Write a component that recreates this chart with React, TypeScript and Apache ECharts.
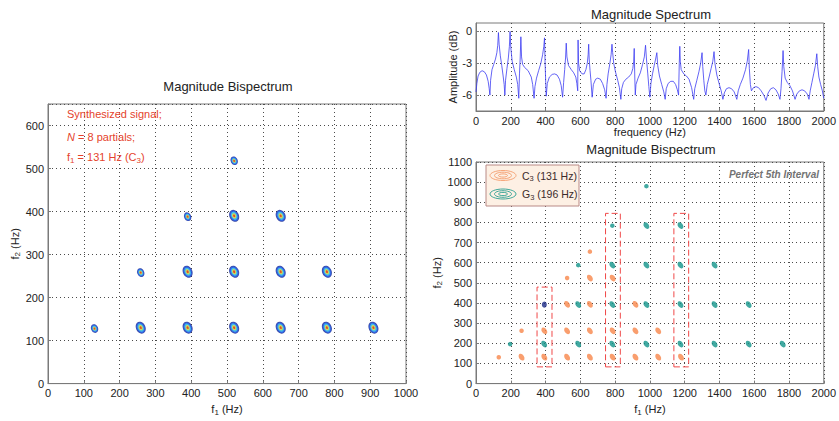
import React, { useEffect, useRef } from 'react';
import * as echarts from 'echarts';

const FONT = '"Liberation Sans", Arial, Helvetica, sans-serif';

// ---------- Magnitude Spectrum (frequency in Hz, amplitude in dB) ----------
const specFreq = [
  0, 5, 12, 22, 35, 48, 60, 70, 76, 80,
  84, 92, 102, 112, 120, 125, 129,
  133, 140, 148, 156, 162, 166,
  170, 178, 186, 192, 196,
  200, 208, 220, 232, 240, 246,
  250, 254, 258,
  262, 268, 280, 300, 318, 326, 334,
  339, 348, 360, 373, 383, 390, 394,
  397, 401, 404,
  410, 422, 438, 452, 466, 480, 490, 498,
  504, 510, 515, 519,
  523, 532, 548, 562, 574, 580, 585,
  587,
  590, 596, 610, 622, 632, 640, 645, 648,
  651, 656, 661, 668,
  675, 688, 700, 715, 728, 740, 748,
  753, 760, 770, 777, 782,
  786, 792, 802, 815, 825, 833,
  838, 848, 862, 878, 893, 902, 907, 910,
  913, 916,
  920, 932, 945, 958, 968, 975,
  980, 988, 994, 1000,
  1006, 1015, 1025, 1033, 1040,
  1045, 1055, 1068, 1080, 1088,
  1094, 1105, 1120, 1135, 1148, 1158, 1165,
  1169, 1172,
  1175, 1180, 1195, 1210, 1225, 1240, 1252,
  1258, 1270, 1282, 1292, 1300,
  1304, 1310, 1316, 1322,
  1330, 1342, 1352, 1362, 1369,
  1374, 1385, 1398, 1410, 1420,
  1428, 1440, 1455, 1470, 1485, 1500,
  1508, 1520, 1535, 1550, 1560, 1568,
  1572, 1578, 1584,
  1595, 1610, 1625, 1640, 1655, 1668,
  1680, 1695, 1710, 1725, 1738, 1748,
  1754, 1760, 1766,
  1770, 1778, 1790, 1805, 1820, 1835,
  1845, 1860, 1875, 1890, 1905, 1915,
  1922, 1932, 1942, 1952, 1960,
  1965, 1972, 1982, 1992, 2000,
];
const specDb = [
  -5.7, -4.9, -4.2, -3.85, -3.7, -3.8, -4.1, -4.7, -5.4, -6.0,
  -4.6, -3.6, -3.1, -2.6, -2.0, -1.3, -0.1,
  -1.2, -2.3, -3.2, -4.2, -5.0, -6.0,
  -4.6, -3.5, -2.5, -1.4, 0.0,
  -1.5, -2.8, -3.6, -4.3, -5.0, -6.3,
  -4.0, -2.6, -0.5,
  -2.4, -3.1, -3.4, -3.7, -4.3, -5.0, -6.3,
  -5.2, -4.4, -3.7, -3.0, -2.2, -1.4, -0.6,
  -2.8, -4.8, -6.1,
  -4.9, -4.3, -4.05, -4.0, -4.1, -4.5, -5.1, -6.2,
  -4.8, -3.6, -2.5, -1.1,
  -2.4, -3.2, -3.6, -3.9, -4.3, -4.9, -5.6,
  -0.8,
  -3.0, -3.7, -4.0, -4.0, -3.6, -3.0, -2.2, -1.2,
  -2.6, -3.7, -4.6, -6.2,
  -5.0, -4.5, -4.4, -4.5, -4.9, -5.5, -6.3,
  -5.0, -4.0, -3.0, -2.2, -1.2,
  -2.0, -3.0, -3.8, -4.6, -5.3, -6.4,
  -5.4, -4.8, -4.5, -4.3, -4.0, -3.5, -2.8, -1.6,
  -4.2, -6.0,
  -5.0, -4.4, -3.9, -3.1, -2.4, -1.3,
  -2.5, -4.0, -5.2, -6.2,
  -4.9, -4.0, -3.2, -2.6, -2.0,
  -3.2, -4.2, -5.0, -5.7, -6.4,
  -5.4, -4.9, -4.7, -4.7, -5.0, -5.5, -6.0,
  -3.0, -1.4,
  -2.8, -3.6, -4.0, -4.2, -4.5, -5.3, -6.4,
  -5.4, -4.6, -3.8, -3.0, -2.0,
  -3.3, -4.6, -5.6, -6.0,
  -5.0, -4.2, -3.5, -2.8, -1.9,
  -3.0, -4.1, -4.9, -5.6, -6.4,
  -5.8, -5.4, -5.3, -5.4, -5.7, -6.4,
  -5.6, -5.0, -4.4, -3.6, -2.8, -1.7,
  -3.5, -5.0, -5.6,
  -5.3, -5.2, -5.3, -5.6, -6.0, -6.5,
  -5.8, -5.4, -5.3, -5.5, -5.9, -6.4,
  -5.4, -3.8, -1.8,
  -3.3, -4.4, -4.8, -5.1, -5.6, -6.4,
  -5.9, -5.6, -5.5, -5.6, -5.9, -6.4,
  -5.6, -4.8, -4.0, -3.2, -2.1,
  -3.3, -4.3, -5.0, -5.6, -6.3,
];
const specYTicks = [-6, -3, 0];

// ---------- Left: Magnitude Bispectrum of synthesized C3 signal ----------
const leftCrossF1 = [259, 390, 520, 650, 779, 909, 390, 520, 650, 779, 520, 650];
const leftCrossF2 = [130, 130, 130, 130, 130, 130, 260, 260, 260, 260, 390, 390];
const leftAutoF1 = [130, 259, 390, 520];
const leftAutoF2 = [128, 258, 388, 518];

// ---------- Right: Magnitude Bispectrum C3 + G3 ----------
const c3CrossF1 = [262, 393, 524, 655, 786, 917, 1048, 1179, 393, 524, 655, 786, 917, 1048, 524, 655, 917, 655, 786];
const c3CrossF2 = [131, 131, 131, 131, 131, 131, 131, 131, 262, 262, 262, 262, 262, 262, 393, 393, 393, 524, 524];
const c3AutoF1 = [131, 262, 524, 655];
const c3AutoF2 = [131, 262, 524, 655];
const g3CrossF1 = [392, 588, 784, 980, 1176, 1372, 1568, 1764, 588, 784, 980, 1176, 1372, 1568, 784, 980, 1176, 1372, 980, 1176];
const g3CrossF2 = [196, 196, 196, 196, 196, 196, 196, 196, 392, 392, 392, 392, 392, 392, 588, 588, 588, 588, 784, 784];
const g3AutoF1 = [196, 588, 784, 980];
const g3AutoF2 = [196, 588, 784, 980];
const sharedF1 = [393];
const sharedF2 = [392];

// Dashed boxes (Hz): f1 from, f1 to, f2 from, f2 to
const boxF1From = [351, 745, 1138];
const boxF1To = [437, 830, 1223];
const boxF2From = [83, 83, 83];
const boxF2To = [479, 845, 845];

const zip = (a: number[], b: number[]) => a.map((v, i) => [v, b[i]]);

const subRich = {
  a: { fontSize: 11, fontFamily: FONT, color: '#222', lineHeight: 14, verticalAlign: 'middle' as const },
  s: { fontSize: 8, fontFamily: FONT, color: '#222', lineHeight: 6, verticalAlign: 'bottom' as const },
};

const plain = (v: number) => String(v);

function axisBase(extra: any) {
  return {
    type: 'value',
    axisLine: { show: true, onZero: false, lineStyle: { color: '#7a7a7a', width: 1 } },
    axisTick: { show: true, inside: true, length: 3, lineStyle: { color: '#7a7a7a' } },
    axisLabel: { color: '#222', fontSize: 11, fontFamily: FONT, margin: 4, formatter: plain },
    splitLine: { show: true, lineStyle: { color: '#4a4a4a', type: [1, 3], width: 1 } },
    nameLocation: 'middle',
    nameTextStyle: { color: '#222', fontSize: 11, fontFamily: FONT, rich: subRich },
    ...extra,
  };
}

export default function App() {
  const ref = useRef<HTMLDivElement>(null);
  useEffect(() => {
    document.body.style.margin = '0';
    if (!ref.current) return;
    const chart = echarts.init(ref.current, null, { renderer: 'svg' });

    const jetLayers = [
      { color: '#0c1f8f', big: [9.5, 12.5], small: [7, 9] },
      { color: '#2e68f2', big: [8, 11], small: [6, 7.8] },
      { color: '#45d2ee', big: [6, 8.5], small: [4.5, 6] },
      { color: '#f4e43a', big: [4, 5.5], small: [3, 4] },
      { color: '#e62a1c', big: [2, 3], small: [1.8, 2.4] },
    ];
    const leftSeries: any[] = [];
    jetLayers.forEach((l) => {
      leftSeries.push({
        type: 'scatter', xAxisIndex: 0, yAxisIndex: 0, data: zip(leftCrossF1, leftCrossF2),
        symbol: 'circle', symbolSize: l.big, symbolRotate: 25, itemStyle: { color: l.color }, silent: true,
      });
      leftSeries.push({
        type: 'scatter', xAxisIndex: 0, yAxisIndex: 0, data: zip(leftAutoF1, leftAutoF2),
        symbol: 'circle', symbolSize: l.small, symbolRotate: 25, itemStyle: { color: l.color }, silent: true,
      });
    });

    const ORANGE = '#f7864a';
    const TEAL = '#12938a';

    const option: any = {
      animation: false,
      backgroundColor: '#ffffff',
      grid: [
        { left: 48, top: 104, width: 358, height: 292, show: true, borderColor: '#7a7a7a', borderWidth: 1 },
        { left: 476, top: 23, width: 351, height: 88, show: true, borderColor: '#7a7a7a', borderWidth: 1 },
        { left: 476, top: 162, width: 351, height: 233, show: true, borderColor: '#7a7a7a', borderWidth: 1 },
      ],
      xAxis: [
        axisBase({ gridIndex: 0, min: 0, max: 1000, interval: 100, name: '{a|f}{s|1}{a| (Hz)}', nameGap: 14 }),
        axisBase({ gridIndex: 1, min: 0, max: 2000, interval: 200, name: 'frequency (Hz)', nameGap: 14 }),
        axisBase({ gridIndex: 2, min: 0, max: 2000, interval: 200, name: '{a|f}{s|1}{a| (Hz)}', nameGap: 14 }),
      ],
      yAxis: [
        axisBase({
          gridIndex: 0, min: 0, max: 650, interval: 100, name: '{a|f}{s|2}{a| (Hz)}', nameGap: 26,
          axisLabel: { color: '#222', fontSize: 11, fontFamily: FONT, margin: 4, formatter: (v: number) => (v % 100 === 0 ? String(v) : '') },
        }),
        axisBase({
          gridIndex: 1, min: -7.5, max: 0.8, name: 'Amplitude (dB)', nameGap: 14,
          axisLabel: { color: '#222', fontSize: 11, fontFamily: FONT, margin: 4, customValues: specYTicks, formatter: plain },
          axisTick: { show: true, inside: true, length: 3, lineStyle: { color: '#7a7a7a' }, customValues: specYTicks },
        }),
        axisBase({ gridIndex: 2, min: 0, max: 1100, interval: 100, name: '{a|f}{s|2}{a| (Hz)}', nameGap: 30 }),
      ],
      series: [
        ...leftSeries,
        {
          type: 'line', xAxisIndex: 1, yAxisIndex: 1, data: zip(specFreq, specDb), showSymbol: false,
          lineStyle: { color: '#3c3cf2', width: 0.8 }, silent: true,
        },
        {
          type: 'scatter', xAxisIndex: 2, yAxisIndex: 2, data: zip(c3CrossF1, c3CrossF2), symbol: 'circle',
          symbolSize: [5, 7.5], symbolRotate: 35, itemStyle: { color: ORANGE }, silent: true,
          markArea: {
            silent: true,
            itemStyle: { color: 'rgba(0,0,0,0)', borderColor: '#f04848', borderWidth: 1, borderType: [6, 3] },
            data: boxF1From.map((x, i) => [
              { xAxis: x, yAxis: boxF2From[i] },
              { xAxis: boxF1To[i], yAxis: boxF2To[i] },
            ]),
          },
        },
        {
          type: 'scatter', xAxisIndex: 2, yAxisIndex: 2, data: zip(c3AutoF1, c3AutoF2), symbol: 'circle',
          symbolSize: [4.5, 4.5], itemStyle: { color: ORANGE }, silent: true,
        },
        {
          type: 'scatter', xAxisIndex: 2, yAxisIndex: 2, data: zip(g3CrossF1, g3CrossF2), symbol: 'circle',
          symbolSize: [5, 7.5], symbolRotate: 35, itemStyle: { color: TEAL }, silent: true,
        },
        {
          type: 'scatter', xAxisIndex: 2, yAxisIndex: 2, data: zip(g3AutoF1, g3AutoF2), symbol: 'circle',
          symbolSize: [4.5, 4.5], itemStyle: { color: TEAL }, silent: true,
        },
        {
          type: 'scatter', xAxisIndex: 2, yAxisIndex: 2, data: zip(sharedF1, sharedF2), symbol: 'circle',
          symbolSize: [5, 6], itemStyle: { color: '#1c2a86' }, silent: true,
        },
      ],
      graphic: [
        { type: 'text', x: 228, y: 86, style: { text: 'Magnitude Bispectrum', font: `13px ${FONT}`, fill: '#222', align: 'center', verticalAlign: 'middle' } },
        { type: 'text', x: 651, y: 14, style: { text: 'Magnitude Spectrum', font: `13px ${FONT}`, fill: '#222', align: 'center', verticalAlign: 'middle' } },
        { type: 'text', x: 651, y: 149, style: { text: 'Magnitude Bispectrum', font: `13px ${FONT}`, fill: '#222', align: 'center', verticalAlign: 'middle' } },
        // annotation, left panel
        { type: 'text', x: 67, y: 114, z: 10, style: { text: 'Synthesized signal;', font: `11px ${FONT}`, fill: '#e5432c', verticalAlign: 'middle' } },
        {
          type: 'text', x: 67, y: 137, z: 10,
          style: {
            text: '{i|N}{a| = 8 partials;}', verticalAlign: 'middle',
            rich: {
              i: { fontSize: 11, fontFamily: FONT, fontStyle: 'italic', fill: '#e5432c', lineHeight: 14 },
              a: { fontSize: 11, fontFamily: FONT, fill: '#e5432c', lineHeight: 14 },
            },
          },
        },
        {
          type: 'text', x: 67, y: 157, z: 10,
          style: {
            text: '{a|f}{s|1}{a| = 131 Hz (C}{s|3}{a|)}', verticalAlign: 'middle',
            rich: {
              a: { fontSize: 11, fontFamily: FONT, fill: '#e5432c', lineHeight: 14, verticalAlign: 'middle' },
              s: { fontSize: 8, fontFamily: FONT, fill: '#e5432c', lineHeight: 6, verticalAlign: 'bottom' },
            },
          },
        },
        // legend box, right bispectrum
        { type: 'rect', z: 10, shape: { x: 486, y: 165, width: 93, height: 41 }, style: { fill: '#fdf0e4', stroke: '#b98a86', lineWidth: 1 } },
        { type: 'ellipse', z: 11, shape: { cx: 503, cy: 175.5, rx: 13, ry: 5 }, style: { fill: 'none', stroke: '#f6a578', lineWidth: 1 } },
        { type: 'ellipse', z: 11, shape: { cx: 503, cy: 175.5, rx: 8.5, ry: 3.3 }, style: { fill: 'none', stroke: '#f6a578', lineWidth: 1 } },
        { type: 'ellipse', z: 11, shape: { cx: 503, cy: 175.5, rx: 4.5, ry: 1.6 }, style: { fill: 'none', stroke: '#f6a578', lineWidth: 1 } },
        { type: 'ellipse', z: 11, shape: { cx: 503, cy: 194, rx: 13, ry: 5 }, style: { fill: 'none', stroke: '#3fa89a', lineWidth: 1 } },
        { type: 'ellipse', z: 11, shape: { cx: 503, cy: 194, rx: 8.5, ry: 3.3 }, style: { fill: 'none', stroke: '#3fa89a', lineWidth: 1 } },
        { type: 'ellipse', z: 11, shape: { cx: 503, cy: 194, rx: 4.5, ry: 1.6 }, style: { fill: 'none', stroke: '#3fa89a', lineWidth: 1 } },
        {
          type: 'text', x: 522, y: 175.5, z: 11,
          style: {
            text: '{a|C}{s|3}{a| (131 Hz)}', verticalAlign: 'middle',
            rich: {
              a: { fontSize: 10.5, fontFamily: FONT, fill: '#3b2b2b', lineHeight: 14, verticalAlign: 'middle' },
              s: { fontSize: 7.5, fontFamily: FONT, fill: '#3b2b2b', lineHeight: 6, verticalAlign: 'bottom' },
            },
          },
        },
        {
          type: 'text', x: 522, y: 194, z: 11,
          style: {
            text: '{a|G}{s|3}{a| (196 Hz)}', verticalAlign: 'middle',
            rich: {
              a: { fontSize: 10.5, fontFamily: FONT, fill: '#3b2b2b', lineHeight: 14, verticalAlign: 'middle' },
              s: { fontSize: 7.5, fontFamily: FONT, fill: '#3b2b2b', lineHeight: 6, verticalAlign: 'bottom' },
            },
          },
        },
        { type: 'text', x: 819, y: 174, z: 10, style: { text: 'Perfect 5th Interval', font: `italic bold 10px ${FONT}`, fill: '#737373', align: 'right', verticalAlign: 'middle' } },
      ],
    };
    chart.setOption(option);
    return () => chart.dispose();
  }, []);
  return <div ref={ref} style={{ width: 839, height: 421 }} />;
}
